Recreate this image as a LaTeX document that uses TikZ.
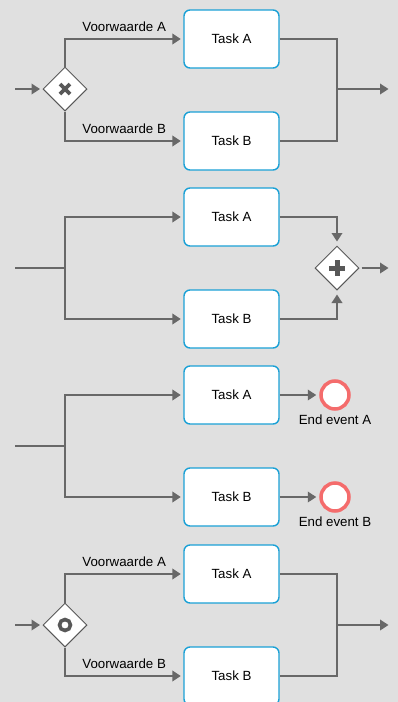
\documentclass[tikz,border=0pt]{standalone}
\usepackage{fontspec}
\setmainfont{Liberation Sans}
\usetikzlibrary{positioning,shapes.geometric,arrows.meta}
\definecolor{bggray}{RGB}{224,224,224}
\definecolor{flowgray}{RGB}{104,104,104}
\definecolor{taskblue}{RGB}{27,161,214}
\definecolor{endred}{RGB}{244,108,108}
\definecolor{markgray}{RGB}{88,88,88}
\begin{document}
\begin{tikzpicture}[x=1pt, y=-1pt,
	line/.style={draw=flowgray, line width=2.4pt},
	flow/.style={line, -{Triangle[length=8.5pt,width=10.5pt]}, shorten >=2.5pt},
	task/.style={draw=taskblue, line width=1.4pt, fill=white, rounded corners=6pt,
		minimum width=95pt, minimum height=58pt, inner sep=0pt, font=\fontsize{13.3}{15}\selectfont},
	gateway/.style={diamond, draw=markgray, line width=1pt, fill=white, aspect=1,
		minimum width=44pt, minimum height=44pt, inner sep=0pt},
	xgate/.style={gateway, path picture={
		\draw[markgray, line width=3.6pt] (path picture bounding box.center) +(-5,-5) -- +(5,5)
			(path picture bounding box.center) +(-5,5) -- +(5,-5);}},
	pgate/.style={gateway, path picture={
		\draw[markgray, line width=5pt] (path picture bounding box.center) +(-8,0) -- +(8,0)
			(path picture bounding box.center) +(0,-8) -- +(0,8);}},
	ogate/.style={gateway, path picture={
		\draw[markgray, line width=3.6pt] (path picture bounding box.center) circle (5.5);}},
	endevent/.style={circle, draw=endred, line width=3.5pt, fill=white, minimum size=28pt, inner sep=0pt},
	cond/.style={inner sep=0pt, anchor=south, font=\fontsize{13.3}{15}\selectfont},
	evlabel/.style={font=\fontsize{13.3}{15}\selectfont}]
	\fill[bggray] (0,0) rectangle (398,702);
	\useasboundingbox (0,0) rectangle (398,702);
	\begin{scope}
		\clip (0,0) rectangle (398,702);

		% exclusive gateway
		\coordinate (inA) at (15,89);
		\node[xgate] (gwA) at (65,89) {};
		\node[task] (taskA1) at (231.5,39) {Task A};
		\node[task] (taskB1) at (231.5,141) {Task B};
		\coordinate (joinA) at (337,89);
		\coordinate (outA) at (391,89);
		\draw[flow] (inA) -- (gwA);
		\draw[flow] (gwA) |- node[cond, pos=0.75, yshift=6pt] {Voorwaarde A} (taskA1);
		\draw[flow] (gwA) |- node[cond, pos=0.75, yshift=6pt] {Voorwaarde B} (taskB1);
		\draw[line] (taskA1.east) -| (joinA) |- (taskB1.east);
		\draw[flow] (joinA) -- (outA);

		% parallel gateway
		\coordinate (inB) at (15,268);
		\coordinate (splitB) at (65,268);
		\node[task] (taskA2) at (231.5,217) {Task A};
		\node[task] (taskB2) at (231.5,319) {Task B};
		\node[pgate] (gwB) at (337,268) {};
		\coordinate (outB) at (391,268);
		\draw[line] (inB) -- (splitB);
		\draw[flow] (splitB) |- (taskA2);
		\draw[flow] (splitB) |- (taskB2);
		\draw[flow, shorten >=4pt] (taskA2) -| (gwB);
		\draw[flow, shorten >=4pt] (taskB2) -| (gwB);
		\draw[flow, shorten <=2pt] (gwB) -- (outB);

		% end events
		\coordinate (inC) at (15,446);
		\coordinate (splitC) at (65,446);
		\node[task] (taskA3) at (231.5,395) {Task A};
		\node[task] (taskB3) at (231.5,497) {Task B};
		\node[endevent] (endA) at (335,395) {};
		\node[endevent] (endB) at (335,497) {};
		\node[evlabel, below=1pt of endA] (endAtext) {End event A};
		\node[evlabel, below=1pt of endB] (endBtext) {End event B};
		\draw[line] (inC) -- (splitC);
		\draw[flow] (splitC) |- (taskA3);
		\draw[flow] (splitC) |- (taskB3);
		\draw[flow, shorten >=3pt] (taskA3) -- (endA);
		\draw[flow, shorten >=3pt] (taskB3) -- (endB);

		% inclusive gateway
		\coordinate (inD) at (15,625);
		\node[ogate] (gwD) at (65,625) {};
		\node[task] (taskA4) at (231.5,574) {Task A};
		\node[task] (taskB4) at (231.5,676) {Task B};
		\coordinate (joinD) at (337,625);
		\coordinate (outD) at (391,625);
		\draw[flow] (inD) -- (gwD);
		\draw[flow] (gwD) |- node[cond, pos=0.75, yshift=6pt] {Voorwaarde A} (taskA4);
		\draw[flow] (gwD) |- node[cond, pos=0.75, yshift=6pt] {Voorwaarde B} (taskB4);
		\draw[line] (taskA4.east) -| (joinD) |- (taskB4.east);
		\draw[flow] (joinD) -- (outD);
	\end{scope}
\end{tikzpicture}
\end{document}
